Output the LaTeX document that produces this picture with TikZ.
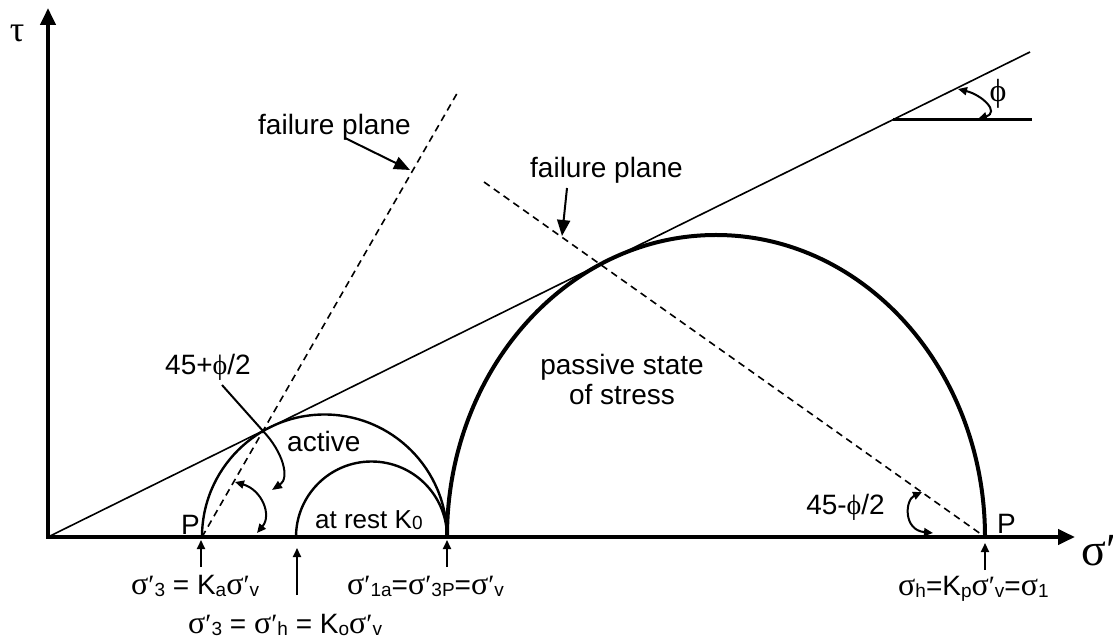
\documentclass[tikz,border=0pt]{standalone}
\usepackage{fontspec}
\setmainfont{Liberation Sans}
\newfontfamily\gr{Liberation Serif}
\usetikzlibrary{arrows.meta}
\newcommand\fs[1]{\fontsize{#1}{#1}\selectfont}
\newcommand\sg{{\gr\fs{32}σ}}
\newcommand\pr{{\gr\fs{28}′}}
\newcommand\sbs[1]{{\fs{19}\raisebox{-2pt}{#1}}}
\begin{document}
\begin{tikzpicture}[x=1pt,y=1pt,
  lbl/.style={inner sep=0pt,font=\fs{28}},
  axisline/.style={line width=4pt,{Triangle[length=17pt,width=15pt]}-{Triangle[length=17pt,width=15pt]}},
  mcline/.style={line width=1.6pt},
  thinc/.style={line width=2.4pt},
  thickc/.style={line width=4pt},
  fplane/.style={line width=1.6pt,dash pattern=on 7pt off 5pt},
  bigarrow/.style={line width=2pt,-{Triangle[length=16pt,width=13pt]}},
  smallarrow/.style={line width=2pt,-{Triangle[length=9pt,width=8pt]}},
  dblarrow/.style={line width=2pt,{Triangle[length=9pt,width=8pt]}-{Triangle[length=9pt,width=8pt]}}]
\useasboundingbox (0,0) rectangle (1113,640);
% coordinates
\coordinate (O) at (48,103);
\coordinate (tautop) at (48,632);
\coordinate (sigtip) at (1075,103);
\coordinate (mcend) at (1030,588);
\coordinate (Pa) at (202,103);
\coordinate (Rr) at (296,103);
\coordinate (C3) at (447,103);
\coordinate (Pp) at (985,103);
\coordinate (fa) at (459,550);
\coordinate (fp) at (484,458);
\coordinate (hl) at (893,520);
\coordinate (hr) at (1032,520);
% axes
\draw[axisline] (tautop) -- (O) -- (sigtip);
% Mohr-Coulomb envelope
\draw[mcline] (O) -- (mcend);
\draw[line width=3pt] (hl) -- (hr);
\coordinate (phia) at (958,551);
\coordinate (phib) at (978,521);
\draw[dblarrow] (phia) .. controls (982,545) and (1000,528) .. (phib);
\node[lbl,font=\gr\fs{32}] (phi) at (998,546) {ϕ};
% circles
\draw[thinc] (Pa) arc[start angle=180,end angle=0,radius=122.5];
\draw[thinc] (Rr) arc[start angle=180,end angle=0,radius=75.5];
\draw[thickc] (C3) arc[start angle=180,end angle=0,x radius=269,y radius=302];
% failure planes
\draw[fplane] (Pa) -- (fa);
\draw[fplane] (fp) -- (Pp);
% labels
\node[lbl,anchor=base west] (fpl1) at (258,505) {failure plane};
\coordinate (a1s) at (345,502);
\coordinate (a1e) at (410,470);
\draw[bigarrow] (a1s) -- (a1e);
\node[lbl,anchor=base west] (fpl2) at (530,462) {failure plane};
\coordinate (a2s) at (567,452);
\coordinate (a2e) at (562,404);
\draw[bigarrow] (a2s) -- (a2e);
\node[lbl,anchor=base west] (ang1) at (165,265) {45+{\gr ϕ}/2};
\coordinate (c1s) at (222,255);
\coordinate (c1m) at (263,209);
\coordinate (c1e) at (272,150);
\draw[line width=2pt,-{Triangle[length=10pt,width=8pt]}] (c1s) -- (c1m) .. controls (283,188) and (290,162) .. (c1e);
\coordinate (d1s) at (235,158);
\coordinate (d1e) at (257,107);
\draw[dblarrow] (d1s) .. controls (262,150) and (272,125) .. (d1e);
\node[lbl,anchor=base east] (ang2) at (885,125) {45-{\gr ϕ}/2};
\coordinate (d2s) at (922,148);
\coordinate (d2e) at (933,107);
\draw[dblarrow] (d2s) .. controls (905,140) and (903,110) .. (d2e);
\node[lbl,anchor=base west] (Plab1) at (181,106) {P};
\node[lbl,anchor=base west] (Plab2) at (997,107) {P};
\node[lbl,anchor=base west] (act) at (287,188) {active};
\node[lbl,anchor=base west,font=\fs{26}] (rest) at (315,112) {at rest K\sbs{0}};
\node[lbl,align=center] (pas) at (622,261) {passive state\\[2pt]of stress};
\node[lbl,anchor=center,font=\gr\fs{36}] (tau) at (17,607) {τ};
\node[lbl,anchor=base west,font=\gr\fs{46}] (sig) at (1081,75) {σ′};
% bottom labels and arrows
\node[lbl,anchor=base west] (b1) at (131,46) {\sg\pr\sbs{3} = K\sbs{a}\sg\pr\sbs{v}};
\node[lbl,anchor=base west] (b2) at (347,46) {\sg\pr\sbs{1a}=\sg\pr\sbs{3P}=\sg\pr\sbs{v}};
\node[lbl,anchor=base west] (b3) at (188,7) {\sg\pr\sbs{3} = \sg\pr\sbs{h} = K\sbs{o}\sg\pr\sbs{v}};
\node[lbl,anchor=base west] (b4) at (898,45) {\sg\sbs{h}=K\sbs{p}\sg\pr\sbs{v}=\sg\sbs{1}};
\coordinate (u1s) at (201,73); \coordinate (u1e) at (201,100);
\coordinate (u2s) at (297,45); \coordinate (u2e) at (297,92);
\coordinate (u3s) at (447,73); \coordinate (u3e) at (447,100);
\coordinate (u4s) at (985,70); \coordinate (u4e) at (985,97);
\draw[smallarrow] (u1s) -- (u1e);
\draw[smallarrow] (u2s) -- (u2e);
\draw[smallarrow] (u3s) -- (u3e);
\draw[smallarrow] (u4s) -- (u4e);
\end{tikzpicture}
\end{document}
